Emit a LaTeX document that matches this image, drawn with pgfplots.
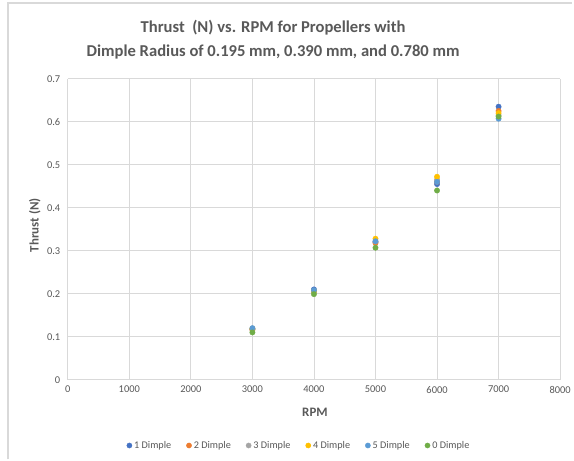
\documentclass[border=0pt]{standalone}
\usepackage{pgfplots}
\pgfplotsset{compat=1.18}
\usepackage{fontspec}
\setmainfont{Carlito}
\definecolor{txt}{HTML}{595959}
\definecolor{grd}{HTML}{D9D9D9}
\definecolor{cA}{HTML}{4472C4}
\definecolor{cB}{HTML}{ED7D31}
\definecolor{cC}{HTML}{A5A5A5}
\definecolor{cD}{HTML}{FFC000}
\definecolor{cE}{HTML}{5B9BD5}
\definecolor{cF}{HTML}{70AD47}
\begin{document}
\begin{tikzpicture}[x=1bp,y=1bp]
\path[fill=white] (-68,-80) rectangle (506,381);
\draw[grd,line width=1.2bp] (-60,-80) -- (-60,378) -- (506,378);
\begin{axis}[
  at={(0,0)}, anchor=south west,
  scale only axis, width=494bp, height=302bp,
  xmin=0, xmax=8000, ymin=0, ymax=0.7,
  xtick={0,1000,...,8000}, ytick={0,0.1,...,0.7},
  yticklabel style={/pgf/number format/fixed,/pgf/number format/precision=1, xshift=-4bp},
  xticklabel style={/pgf/number format/set thousands separator={}, yshift=-3bp},
  /pgf/number format/assume math mode=true,
  tick label style={font=\fontsize{10.5}{12}\selectfont, text=txt},
  xmajorgrids, ymajorgrids,
  grid style={grd, line width=0.8bp},
  axis line style={draw=none},
  tick style={draw=none},
  legend style={at={(232bp,-66bp)}, anchor=center, draw=none, fill=none,
    legend columns=6, font=\fontsize{10.3}{12}\selectfont, text=txt,
    /tikz/every even column/.append style={column sep=13bp},
    legend cell align=left, inner sep=0pt},
  legend image code/.code={\fill[#1] (0bp,0bp) circle (2.6bp);},
  every axis plot/.append style={only marks, mark=*, mark size=2.7bp},
  clip=false
]
\draw[grd, line width=0.8bp] (axis cs:0,0) -- (axis cs:8000,0);
\addplot[cA, mark options={fill=cA, draw=cA}] coordinates {(3000,0.118) (4000,0.210) (5000,0.320) (6000,0.455) (7000,0.635)};
\addlegendentry{1 Dimple}
\addplot[cB, mark options={fill=cB, draw=cB}] coordinates {(3000,0.116) (4000,0.205) (5000,0.318) (6000,0.460) (7000,0.625)};
\addlegendentry{2 Dimple}
\addplot[cC, mark options={fill=cC, draw=cC}] coordinates {(3000,0.117) (4000,0.206) (5000,0.322) (6000,0.465) (7000,0.615)};
\addlegendentry{3 Dimple}
\addplot[cD, mark options={fill=cD, draw=cD}] coordinates {(3000,0.119) (4000,0.207) (5000,0.328) (6000,0.472) (7000,0.620)};
\addlegendentry{4 Dimple}
\addplot[cE, mark options={fill=cE, draw=cE}] coordinates {(3000,0.120) (4000,0.208) (5000,0.322) (6000,0.460) (7000,0.607)};
\addlegendentry{5 Dimple}
\addplot[cF, mark options={fill=cF, draw=cF}] coordinates {(3000,0.110) (4000,0.199) (5000,0.307) (6000,0.440) (7000,0.612)};
\addlegendentry{0 Dimple}
\end{axis}
\node[text=txt, font=\fontsize{13}{15}\selectfont\bfseries] at (248,-33) {RPM};
\node[text=txt, font=\fontsize{13}{15}\selectfont\bfseries, rotate=90] at (-33,155) {Thrust (N)};
\node[text=txt, font=\fontsize{16.7}{20}\selectfont\bfseries, align=center] at (206,341) {Thrust~ (N) vs. RPM for Propellers with\\[4bp] Dimple Radius of 0.195 mm, 0.390 mm, and 0.780 mm};
\end{tikzpicture}
\end{document}
